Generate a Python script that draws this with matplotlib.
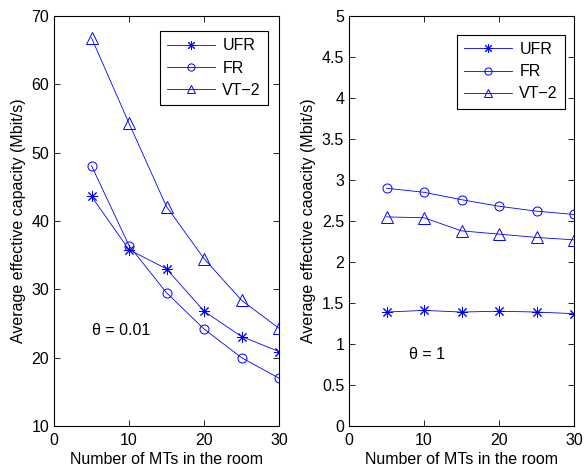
import matplotlib
matplotlib.use("Agg")
import matplotlib.pyplot as plt

plt.rcParams['font.family'] = ['Liberation Sans', 'DejaVu Sans']
plt.rcParams['font.size'] = 11.5

mts = [5, 10, 15, 20, 25, 30]

# theta = 0.01
ufr_a = [43.6, 35.8, 33.0, 26.8, 23.1, 20.9]
fr_a = [48.1, 36.4, 29.5, 24.2, 20.0, 17.0]
vt2_a = [66.8, 54.3, 42.1, 34.5, 28.4, 24.3]

# theta = 1
ufr_b = [1.39, 1.41, 1.39, 1.40, 1.39, 1.37]
fr_b = [2.90, 2.85, 2.76, 2.68, 2.62, 2.58]
vt2_b = [2.55, 2.54, 2.38, 2.34, 2.30, 2.27]

labels = ['UFR', 'FR', 'VT\u22122']
markers = [(8, 2, 0), 'o', '^']
sizes = [8, 6.5, 8]

fig = plt.figure(figsize=(5.84, 4.68), dpi=100)
ax1 = fig.add_axes([0.0925, 0.0897, 0.3853, 0.8761])
ax2 = fig.add_axes([0.5976, 0.0897, 0.3853, 0.8761])


def style(ax):
    ax.tick_params(direction='in', top=True, right=True, length=4, width=0.6, labelsize=11.5)
    ax.tick_params(axis='x', pad=5)
    for s in ax.spines.values():
        s.set_linewidth(0.8)
    ax.set_xlim(0, 30)
    ax.set_xticks([0, 10, 20, 30])
    ax.set_xlabel('Number of MTs in the room', labelpad=3)


legend_anchor = [(0.951, 0.963), (0.96, 0.954)]

for ax, series, anc in [(ax1, [ufr_a, fr_a, vt2_a], legend_anchor[0]),
                        (ax2, [ufr_b, fr_b, vt2_b], legend_anchor[1])]:
    for y, m, s, lab in zip(series, markers, sizes, labels):
        ax.plot(mts, y, color='blue', lw=0.6, marker=m, ms=s, mfc='none',
                mec='blue', mew=0.7, label=lab)
    style(ax)
    leg = ax.legend(loc='upper right', bbox_to_anchor=anc, fancybox=False,
                    edgecolor='black', framealpha=1, handlelength=3.0,
                    borderpad=0.45, labelspacing=0.45, handletextpad=0.45,
                    fontsize=11.5, borderaxespad=0, markerscale=0.8)
    leg.get_frame().set_linewidth(0.8)

ax1.set_ylim(10, 70)
ax1.set_yticks(range(10, 71, 10))
ax1.set_ylabel('Average effective capacity (Mbit/s)', labelpad=4)
ax1.text(5, 24, '\u03b8 = 0.01', fontsize=11.5, va='center')

ax2.set_ylim(0, 5)
ax2.set_yticks([0, 0.5, 1, 1.5, 2, 2.5, 3, 3.5, 4, 4.5, 5])
ax2.set_yticklabels(['0', '0.5', '1', '1.5', '2', '2.5', '3', '3.5', '4', '4.5', '5'])
ax2.set_ylabel('Average effective caoacity (Mbit/s)', labelpad=4)
ax2.text(8, 0.87, '\u03b8 = 1', fontsize=11.5, va='center')

fig.savefig('out.png', dpi=100)
